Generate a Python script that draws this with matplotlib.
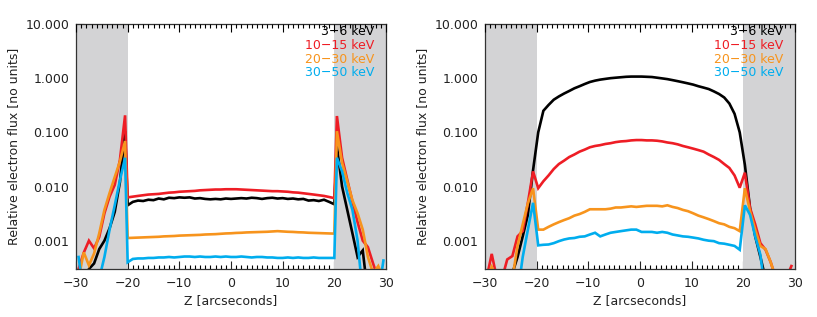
import numpy as np
import matplotlib
matplotlib.use("Agg")
import matplotlib.pyplot as plt
from matplotlib.ticker import MultipleLocator, FixedLocator, FixedFormatter, NullLocator

# ---------------- data ----------------
labels = ["3\u22126 keV", "10\u221215 keV", "20\u221230 keV", "30\u221250 keV"]
colors = ["#000000", "#ee1d25", "#f7941d", "#00adee"]

# Left panel sampling positions (arcsec)
z_left = ([-29.5, -28.5, -27.5, -26.5, -25.5, -24.5, -23.5, -22.5, -21.5, -20.5]
          + list(range(-20, 21))
          + [20.5, 21.5, 22.5, 23.5, 24.5, 25.5, 26.5, 27.5, 28.5, 29.5])

left_black = ([1e-4, 1e-4, 3.0e-4, 3.8e-4, 7e-4, 1.0e-3, 1.7e-3, 3.4e-3, 0.012, 0.105]
              + [0.0045, 0.0052, 0.0055, 0.0054, 0.0057, 0.0056, 0.0060, 0.0058, 0.0062, 0.0061,
                 0.0063, 0.0062, 0.0063, 0.0060, 0.0061, 0.0059, 0.0058, 0.0059, 0.0058, 0.0060,
                 0.0059, 0.0060, 0.0061, 0.0060, 0.0062, 0.0061, 0.0059, 0.0061, 0.0062, 0.0060,
                 0.0061, 0.0059, 0.0060, 0.0058, 0.0059, 0.0055, 0.0056, 0.0054, 0.0057, 0.0052,
                 0.0047]
              + [0.055, 0.010, 0.0037, 0.00137, 0.0005, 0.00066, 1e-4, 1e-4, 1e-4, 1e-4])
left_red = ([3.0e-4, 6.0e-4, 1.0e-3, 7.2e-4, 1.17e-3, 3.2e-3, 6.5e-3, 0.0107, 0.031, 0.206]
            + [0.0063, 0.0065, 0.0067, 0.0069, 0.0071, 0.0072, 0.0073, 0.0075, 0.0077, 0.0078,
               0.0080, 0.0081, 0.0082, 0.0083, 0.0085, 0.0086, 0.0087, 0.0088, 0.0088, 0.0089,
               0.0089, 0.0089, 0.0088, 0.0087, 0.0086, 0.0085, 0.0084, 0.0083, 0.0082, 0.0082,
               0.0081, 0.0080, 0.0078, 0.0077, 0.0075, 0.0073, 0.0071, 0.0069, 0.0067, 0.0064,
               0.0061]
            + [0.20, 0.034, 0.0133, 0.0053, 0.0022, 0.0010, 7.6e-4, 3.8e-4, 2e-4, 2e-4])
left_orange = ([2e-4, 6.1e-4, 3.5e-4, 5.8e-4, 1.37e-3, 3.7e-3, 7.6e-3, 0.015, 0.029, 0.069]
               + [0.00112, 0.00113, 0.00114, 0.00115, 0.00116, 0.00117, 0.00118, 0.00120, 0.00121, 0.00122,
                  0.00124, 0.00125, 0.00126, 0.00127, 0.00128, 0.00130, 0.00131, 0.00132, 0.00134, 0.00136,
                  0.00137, 0.00139, 0.00140, 0.00142, 0.00143, 0.00144, 0.00145, 0.00146, 0.00148, 0.00150,
                  0.00148, 0.00146, 0.00145, 0.00143, 0.00142, 0.00140, 0.00139, 0.00138, 0.00137, 0.00136,
                  0.00135]
               + [0.105, 0.0275, 0.0124, 0.0056, 0.0032, 0.0016, 5e-4, 2.5e-4, 3.4e-4, 2e-4])
left_cyan = ([5e-4, 1e-4, 1e-4, 1e-4, 2e-4, 5e-4, 1.6e-3, 4.5e-3, 0.013, 0.034]
             + [0.00040, 0.00046, 0.00047, 0.00047, 0.00048, 0.00048, 0.00049, 0.00049, 0.00050, 0.00049,
                0.00050, 0.00051, 0.00051, 0.00050, 0.00051, 0.00050, 0.00050, 0.00051, 0.00050, 0.00051,
                0.00050, 0.00050, 0.00051, 0.00050, 0.00049, 0.00050, 0.00050, 0.00049, 0.00049, 0.00048,
                0.00048, 0.00049, 0.00048, 0.00049, 0.00048, 0.00048, 0.00049, 0.00048, 0.00048, 0.00048,
                0.00048]
             + [0.034, 0.019, 0.0076, 0.0037, 0.0010, 1e-4, 1e-4, 1e-4, 1e-4, 4.3e-4])

# Right panel sampling positions (arcsec)
z_right = list(np.arange(60) - 29.7)

right_black = ([1e-4, 1e-4, 1e-4, 1e-4, 1e-4, 2.5e-4, 5e-4, 1.2e-3, 3e-3, 0.02,
                0.10, 0.25, 0.32, 0.40, 0.46, 0.52, 0.58, 0.65, 0.71, 0.78,
                0.85, 0.90, 0.94, 0.97, 1.00, 1.02, 1.04, 1.06, 1.07, 1.07,
                1.07, 1.06, 1.05, 1.02, 0.99, 0.96, 0.92, 0.88, 0.84, 0.80,
                0.76, 0.71, 0.67, 0.63, 0.57, 0.51, 0.44, 0.34, 0.22, 0.10,
                0.025, 4e-3, 1.2e-3, 5e-4, 2e-4, 1e-4, 1e-4, 1e-4, 1e-4, 1e-4])
right_red = ([2e-4, 5.7e-4, 2e-4, 2e-4, 4.5e-4, 5.2e-4, 1.2e-3, 1.5e-3, 5e-3, 0.019,
              0.0093, 0.0125, 0.016, 0.021, 0.026, 0.030, 0.035, 0.039, 0.044, 0.048,
              0.053, 0.056, 0.058, 0.061, 0.063, 0.066, 0.068, 0.069, 0.071, 0.072,
              0.072, 0.071, 0.071, 0.070, 0.068, 0.065, 0.063, 0.060, 0.056, 0.053,
              0.050, 0.047, 0.044, 0.039, 0.035, 0.031, 0.026, 0.022, 0.016, 0.0095,
              0.018, 4e-3, 2e-3, 9e-4, 6.8e-4, 4e-4, 2e-4, 2e-4, 2e-4, 3.4e-4])
right_orange = ([2e-4, 3.3e-4, 2e-4, 2e-4, 2e-4, 2e-4, 8e-4, 2e-3, 4.9e-3, 9.3e-3,
                 0.0016, 0.0016, 0.0018, 0.0020, 0.0022, 0.0024, 0.0026, 0.0029, 0.0031, 0.0034,
                 0.0038, 0.0038, 0.0038, 0.0038, 0.0039, 0.0041, 0.0041, 0.0042, 0.0043, 0.0042,
                 0.0043, 0.0044, 0.0044, 0.0044, 0.0043, 0.0045, 0.0042, 0.0040, 0.0037, 0.0035,
                 0.0032, 0.0029, 0.0027, 0.0025, 0.0023, 0.0021, 0.0020, 0.0018, 0.0017, 0.0015,
                 0.0093, 3.5e-3, 1.6e-3, 8e-4, 7e-4, 4e-4, 2e-4, 2e-4, 2e-4, 2e-4])
right_cyan = ([1e-4, 1e-4, 1e-4, 1e-4, 1e-4, 1e-4, 1e-4, 5e-4, 1.6e-3, 5e-3,
               0.00082, 0.00084, 0.00085, 0.00090, 0.00098, 0.00105, 0.00110, 0.00112, 0.00118, 0.00120,
               0.00130, 0.00140, 0.00120, 0.00130, 0.00140, 0.00145, 0.00150, 0.00155, 0.00160, 0.00160,
               0.00145, 0.00145, 0.00145, 0.00140, 0.00145, 0.00140, 0.00130, 0.00125, 0.00120, 0.00118,
               0.00114, 0.00110, 0.00104, 0.00100, 0.00098, 0.00090, 0.00088, 0.00084, 0.00080, 0.00068,
               0.0045, 3e-3, 1.2e-3, 5.5e-4, 1e-4, 1e-4, 1e-4, 1e-4, 1e-4, 1e-4])

y_ticks = [0.001, 0.01, 0.1, 1.0, 10.0]
y_ticklabels = ["0.001", "0.010", "0.100", "1.000", "10.000"]
x_ticks = [-30, -20, -10, 0, 10, 20, 30]

# ---------------- plot ----------------
plt.rcParams['font.family'] = ['DejaVu Sans']
FS = 9
fig = plt.figure(figsize=(8.17, 3.17), dpi=100)
W, H = 817, 317
panels = [
    (76, 386, z_left, [left_black, left_red, left_orange, left_cyan], 20),
    (485, 795, z_right, [right_black, right_red, right_orange, right_cyan], 429),
]
top_px, bot_px = 24, 269
gray = "#d3d3d5"
txtc = "#222222"
for (x0, x1, z, series, ylab_x) in panels:
    ax = fig.add_axes([x0 / W, 1 - bot_px / H, (x1 - x0) / W, (bot_px - top_px) / H])
    ax.set_yscale("log")
    ax.set_xlim(-30, 30)
    ax.set_ylim(3e-4, 10.0)
    ax.set_axisbelow(True)
    ax.axvspan(-30, -20, color=gray, lw=0, zorder=1)
    ax.axvspan(20, 30, color=gray, lw=0, zorder=1)
    for vals, c in zip(series, colors):
        ax.plot(z, vals, color=c, lw=1.9, zorder=2, solid_joinstyle="miter")
    ax.xaxis.set_major_locator(FixedLocator(x_ticks))
    ax.xaxis.set_minor_locator(MultipleLocator(1))
    ax.yaxis.set_major_locator(FixedLocator(y_ticks))
    ax.yaxis.set_major_formatter(FixedFormatter(y_ticklabels))
    ax.yaxis.set_minor_locator(NullLocator())
    ax.tick_params(axis="x", which="major", direction="in", length=6, width=0.8,
                   labelsize=FS, pad=6, top=False, colors=txtc)
    ax.tick_params(axis="x", which="minor", direction="in", length=3, width=0.8, top=False)
    ax.tick_params(axis="y", which="major", direction="in", length=6, width=0.8,
                   labelsize=FS, pad=5, right=False, colors=txtc)
    for s in ax.spines.values():
        s.set_linewidth(0.9)
        s.set_color("#333333")
    ax.set_xlabel("Z [arcseconds]", fontsize=FS, labelpad=3, color=txtc)
    ax.set_ylabel("Relative electron flux [no units]", fontsize=FS, color=txtc)
    ax.yaxis.set_label_coords((ylab_x - x0) / (x1 - x0), 0.5)
    # top ticks drawn over the gray band
    ax2 = ax.twiny()
    ax2.set_xlim(-30, 30)
    ax2.xaxis.set_major_locator(FixedLocator(x_ticks))
    ax2.xaxis.set_minor_locator(MultipleLocator(1))
    ax2.tick_params(axis="x", which="major", direction="in", length=6, width=0.8,
                    labeltop=False, bottom=False, top=True)
    ax2.tick_params(axis="x", which="minor", direction="in", length=3, width=0.8,
                    bottom=False, top=True)
    for s in ax2.spines.values():
        s.set_visible(False)
    # legend text
    leg_y = [0.971, 0.914, 0.857, 0.80]
    for lab, c, yy in zip(labels, colors, leg_y):
        ax.text(0.962, yy, lab, color=c, fontsize=FS, ha="right", va="center",
                transform=ax.transAxes, zorder=5)

fig.savefig("out.png", dpi=100)
